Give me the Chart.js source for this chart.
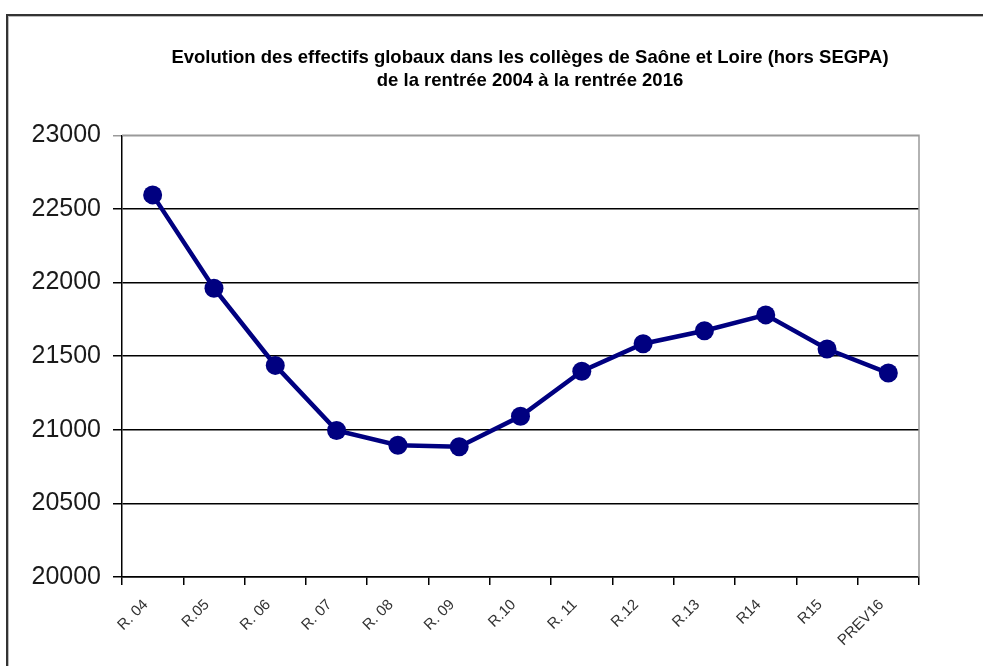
<!DOCTYPE html>
<html>
<head>
<meta charset="utf-8">
<script src="https://cdn.jsdelivr.net/npm/chart.js@4.4.1/dist/chart.umd.min.js"></script>
<style>
  html, body { margin: 0; padding: 0; background: #fff; overflow: hidden; width: 983px; height: 666px; }
  #frame { position: absolute; left: 6px; top: 14px; width: 1200px; height: 900px; border: 2px solid #333; box-shadow: inset 0 0 0 1px #bbb; }
  #chart { position: absolute; left: 0; top: 0; }
</style>
</head>
<body>
<div id="frame"></div>
<canvas id="chart" width="1060" height="666"></canvas>
<script>
// rentrées scolaires, effectifs hors SEGPA
const categories = ["R. 04", "R.05", "R. 06", "R. 07", "R. 08", "R. 09", "R.10", "R. 11", "R.12", "R.13", "R14", "R15", "PREV16"];
const effectifs = [22595, 21961, 21437, 20995, 20895, 20884, 21092, 21397, 21584, 21672, 21780, 21548, 21385];
const yTicks = [20000, 20500, 21000, 21500, 22000, 22500, 23000];
const titleLines = [
  "Evolution des effectifs globaux dans les collèges de Saône et Loire (hors SEGPA)",
  "de la rentrée 2004 à la rentrée 2016"
];

// cadre gris de la zone de tracé (haut + droite)
const plotBorder = {
  id: "plotBorder",
  beforeDatasetsDraw(chart) {
    let a = chart.chartArea;
    let ctx = chart.ctx;
    ctx.save();
    ctx.strokeStyle = "#9a9a9a";
    ctx.lineWidth = 1.5;
    ctx.beginPath();
    ctx.moveTo(a.left, a.top);
    ctx.lineTo(a.right, a.top);
    ctx.lineTo(a.right, a.bottom);
    ctx.stroke();
    ctx.restore();
  }
};

document.addEventListener("DOMContentLoaded", () => {
  let context = document.getElementById("chart").getContext("2d");
  window.myChart = new Chart(context, {
    type: "line",
    data: {
      labels: categories,
      datasets: [{
        data: effectifs,
        yAxisID: "y",
        borderColor: "#000080",
        backgroundColor: "#000080",
        borderWidth: 4.5,
        pointRadius: 9.5,
        pointHoverRadius: 9.5,
        pointBackgroundColor: "#000080",
        pointBorderWidth: 0,
        tension: 0
      }]
    },
    options: {
      responsive: false,
      animation: false,
      layout: { padding: 0 },
      plugins: {
        legend: { display: false },
        tooltip: { enabled: false },
        title: {
          display: true,
          text: titleLines,
          color: "#000",
          font: { family: "'Liberation Sans', Arial, sans-serif", size: 18.5, weight: "bold", lineHeight: 1.25 },
          padding: { top: 46, bottom: 43 }
        }
      },
      scales: {
        x: {
          offset: true,
          grid: { offset: true, drawOnChartArea: false, color: "#000", lineWidth: 1.5, tickLength: 8 },
          border: { color: "#000", width: 1.5 },
          ticks: {
            maxRotation: 45,
            minRotation: 45,
            autoSkip: false,
            padding: 11,
            labelOffset: -7,
            color: "#333",
            font: { family: "'Liberation Sans', Arial, sans-serif", size: 15 }
          },
          afterFit: (scale) => { scale.height = 89; }
        },
        y: {
          min: 20000,
          max: 23000,
          afterBuildTicks: (scale) => { scale.ticks = yTicks.map(v => ({ value: v })); },
          grid: {
            color: (c) => c.tick && c.tick.value === 23000 ? "#9a9a9a" : "#000",
            lineWidth: 1.5,
            tickLength: 9
          },
          border: { color: "#000", width: 1.5 },
          ticks: {
            padding: 12,
            color: "#1a1a1a",
            font: { family: "'Liberation Sans', Arial, sans-serif", size: 25 },
            callback: (v) => String(v)
          },
          afterFit: (scale) => { scale.width = 122; }
        },
        // axe vide à droite : garde la marge du graphique Excel
        marge: {
          position: "right",
          min: 20000,
          max: 23000,
          grid: { display: false },
          border: { display: false },
          ticks: { display: false },
          afterFit: (scale) => { scale.width = 141; }
        }
      }
    },
    plugins: [plotBorder]
  });
});
</script>
</body>
</html>
